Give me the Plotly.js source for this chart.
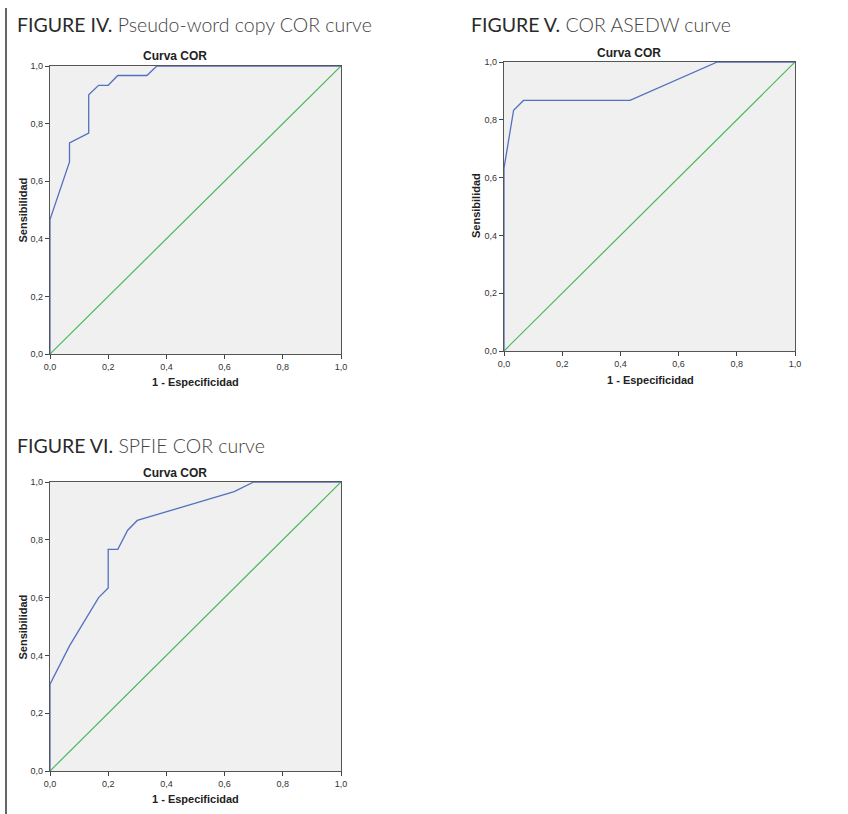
<!DOCTYPE html>
<html>
<head>
<meta charset="utf-8">
<script src="https://cdn.plot.ly/plotly-3.0.1.min.js"></script>
<style>html,body{margin:0;padding:0;background:#fff;}#chart{width:848px;height:814px;}</style>
</head>
<body>
<div id="chart"></div>
<script>
// Figure IV: Pseudo-word copy
const fig4X = [0, 0, 0.067, 0.067, 0.133, 0.133, 0.167, 0.2, 0.233, 0.333, 0.367, 1];
const fig4Y = [0, 0.467, 0.667, 0.733, 0.767, 0.9, 0.933, 0.933, 0.967, 0.967, 1, 1];
// Figure V: ASEDW
const fig5X = [0, 0, 0.033, 0.067, 0.433, 0.733, 1];
const fig5Y = [0, 0.633, 0.833, 0.867, 0.867, 1, 1];
// Figure VI: SPFIE
const fig6X = [0, 0, 0.067, 0.167, 0.2, 0.2, 0.233, 0.267, 0.3, 0.633, 0.7, 1];
const fig6Y = [0, 0.3, 0.433, 0.6, 0.633, 0.767, 0.767, 0.833, 0.867, 0.967, 1, 1];
// Reference line
const refX = [0, 1];
const refY = [0, 1];
// Tick labels
const tickVals = [0, 0.2, 0.4, 0.6, 0.8, 1.0];
const tickText = ["0,0", "0,2", "0,4", "0,6", "0,8", "1,0"];
const figTitles = [
  ["FIGURE IV.", " Pseudo-word copy COR curve"],
  ["FIGURE V.", " COR ASEDW curve"],
  ["FIGURE VI.", " SPFIE COR curve"]
];
const chartTitle = "Curva COR";
const xTitle = "1 - Especificidad";
const yTitle = "Sensibilidad";

const W = 848, H = 814;
const BLUE = "#5470c0", GREEN = "#44bb55";

function px(x) { return x / W; }
function py(y) { return 1 - y / H; }

const boxes = [
  {l: 50, r: 341, t: 66, b: 354},
  {l: 504, r: 795, t: 62, b: 351},
  {l: 50, r: 341, t: 482, b: 771}
];

const curves = [[fig4X, fig4Y], [fig5X, fig5Y], [fig6X, fig6Y]];
const data = [];
curves.forEach((c, i) => {
  const s = i === 0 ? "" : String(i + 1);
  data.push({x: refX, y: refY, type: "scatter", mode: "lines", xaxis: "x" + s, yaxis: "y" + s,
    line: {color: GREEN, width: 1.2}, hoverinfo: "skip", showlegend: false, cliponaxis: false});
  data.push({x: c[0], y: c[1], type: "scatter", mode: "lines", xaxis: "x" + s, yaxis: "y" + s,
    line: {color: BLUE, width: 1.3}, showlegend: false, cliponaxis: false});
});

const layout = {
  width: W, height: H,
  margin: {l: 0, r: 0, t: 0, b: 0},
  paper_bgcolor: "#ffffff",
  plot_bgcolor: "#f0f0f0",
  showlegend: false,
  annotations: [],
  shapes: [
    {type: "line", xref: "paper", yref: "paper", x0: px(6), x1: px(6), y0: py(8), y1: py(814),
     line: {color: "#333333", width: 1.5}}
  ]
};

const axisCommon = {
  range: [0, 1], autorange: false, tickmode: "array", tickvals: tickVals, ticktext: tickText,
  ticks: "outside", ticklen: 4, tickwidth: 1, tickcolor: "#444",
  showline: true, linecolor: "#555", linewidth: 1.2, mirror: true,
  showgrid: false, zeroline: false, fixedrange: true,
  tickfont: {family: "Liberation Sans, Arial, sans-serif", size: 9, color: "#333"}
};

boxes.forEach((b, i) => {
  const s = i === 0 ? "" : String(i + 1);
  layout["xaxis" + s] = Object.assign({}, axisCommon, {
    domain: [px(b.l), px(b.r)], anchor: "y" + s
  });
  layout["yaxis" + s] = Object.assign({}, axisCommon, {
    domain: [py(b.b), py(b.t)], anchor: "x" + s
  });
});

const titlePos = [
  {x: 15, y: 25}, {x: 469, y: 25}, {x: 15, y: 445}
];
const chartTitlePos = [
  {x: 175, y: 56}, {x: 629, y: 53}, {x: 175, y: 473}
];
const xTitlePos = [
  {x: 195.5, y: 382}, {x: 650, y: 380}, {x: 195.5, y: 799}
];
const yTitlePos = [
  {x: 22.5, y: 210}, {x: 476, y: 206}, {x: 22.5, y: 627}
];

for (let i = 0; i < 3; i++) {
  layout.annotations.push({
    xref: "paper", yref: "paper", x: px(titlePos[i].x), y: py(titlePos[i].y),
    xanchor: "left", yanchor: "middle", showarrow: false,
    text: figTitles[i][0] + "<span style='font-weight:300;fill:#444'>" + figTitles[i][1] + "</span>",
    font: {family: "Lato, 'Open Sans', sans-serif", size: 19.5, color: "#2a2a2a"}
  });
  layout.annotations.push({
    xref: "paper", yref: "paper", x: px(chartTitlePos[i].x), y: py(chartTitlePos[i].y),
    xanchor: "center", yanchor: "middle", showarrow: false,
    text: "<b>" + chartTitle + "</b>",
    font: {family: "Liberation Sans, Arial, sans-serif", size: 12, color: "#222"}
  });
  layout.annotations.push({
    xref: "paper", yref: "paper", x: px(xTitlePos[i].x), y: py(xTitlePos[i].y),
    xanchor: "center", yanchor: "middle", showarrow: false,
    text: "<b>" + xTitle + "</b>",
    font: {family: "Liberation Sans, Arial, sans-serif", size: 11, color: "#222"}
  });
  layout.annotations.push({
    xref: "paper", yref: "paper", x: px(yTitlePos[i].x), y: py(yTitlePos[i].y),
    xanchor: "center", yanchor: "middle", showarrow: false, textangle: -90,
    text: "<b>" + yTitle + "</b>",
    font: {family: "Liberation Sans, Arial, sans-serif", size: 11, color: "#222"}
  });
}

Plotly.newPlot("chart", data, layout, {displayModeBar: false, staticPlot: true});
</script>
</body>
</html>
